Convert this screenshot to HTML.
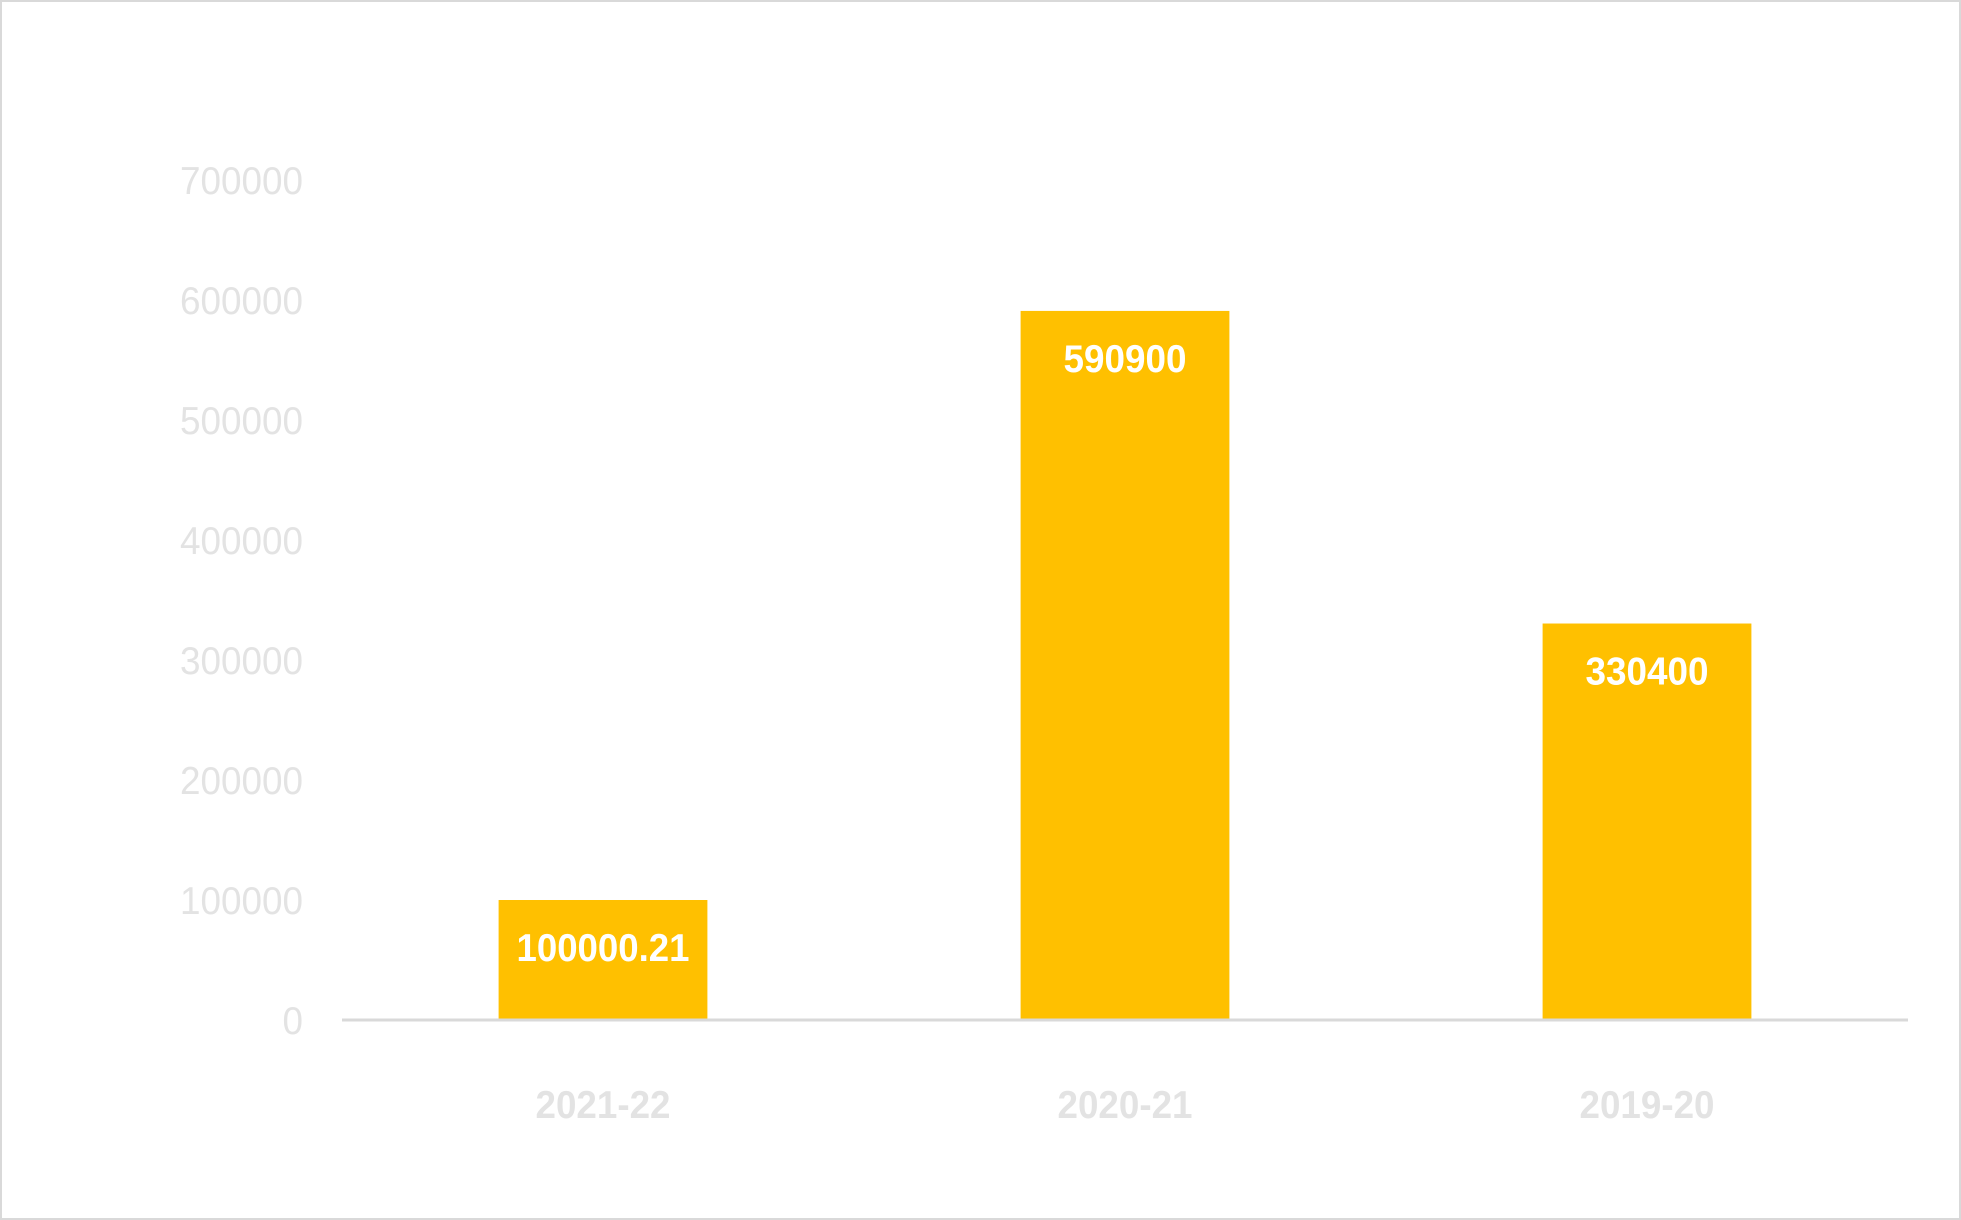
<!DOCTYPE html>
<html><head><meta charset="utf-8"><style>
html,body{margin:0;padding:0;background:#fff}
svg{display:block}
</style></head><body>
<svg id="chart" width="1961" height="1220" xmlns="http://www.w3.org/2000/svg" font-family="'Liberation Sans', sans-serif">
<rect x="1" y="1" width="1959" height="1218" fill="#fff" stroke="#d9d9d9" stroke-width="2"/>
<g id="yticks"></g>
<g id="bars"></g>
<g id="xlabels"></g>
<line x1="342" y1="1020" x2="1908" y2="1020" stroke="#d9d9d9" stroke-width="3"/>
</svg>
<script>
const categories = ["2021-22", "2020-21", "2019-20"];
const values = [100000.21, 590900, 330400];
const valueLabels = ["100000.21", "590900", "330400"];
const yTicks = [0, 100000, 200000, 300000, 400000, 500000, 600000, 700000];

const NS = "http://www.w3.org/2000/svg";
const plotLeft = 342, plotRight = 1908, y0 = 1020, yMax = 700000, yTopPx = 180;
const band = (plotRight - plotLeft) / categories.length;
function yScale(v){ return y0 - (v / yMax) * (y0 - yTopPx); }
function xCenter(i){ return plotLeft + band * (i + 0.5); }
function mk(tag, attrs, parent){ const e = document.createElementNS(NS, tag); for (const k in attrs) e.setAttribute(k, attrs[k]); parent.appendChild(e); return e; }
function tlen(s){ let w = 0; for (const ch of s) w += (ch === '.') ? 9 : (ch === '-') ? 12 : 20.5; return w; }

const yg = document.getElementById('yticks');
yTicks.forEach(t => {
  const s = String(t);
  const el = mk('text', {x: 303, y: yScale(t) + 14, 'text-anchor': 'end', 'font-size': 39, fill: '#e3e3e3', textLength: tlen(s), lengthAdjust: 'spacingAndGlyphs'}, yg);
  
  
  el.textContent = s;
});

const bg = document.getElementById('bars');
const bw = band * 0.4;
values.forEach((v, i) => {
  const top = yScale(v);
  const r = mk('rect', {x: xCenter(i) - bw / 2, y: top, width: bw, height: y0 - top, fill: '#ffc000'}, bg);
  
  
  const t = mk('text', {x: xCenter(i), y: top + 61, 'text-anchor': 'middle', 'font-size': 39, 'font-weight': 'bold', fill: '#ffffff', textLength: tlen(valueLabels[i]), lengthAdjust: 'spacingAndGlyphs'}, bg);
  
  
  t.textContent = valueLabels[i];
});

const xg = document.getElementById('xlabels');
categories.forEach((c, i) => {
  const t = mk('text', {x: xCenter(i), y: 1118, 'text-anchor': 'middle', 'font-size': 39, 'font-weight': 'bold', fill: '#e3e3e3', textLength: tlen(c), lengthAdjust: 'spacingAndGlyphs'}, xg);
  
  
  t.textContent = c;
});
</script>
</body></html>
